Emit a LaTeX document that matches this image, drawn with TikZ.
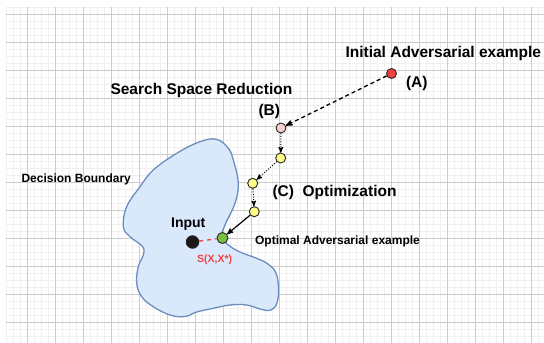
\documentclass[tikz,border=0pt]{standalone}
\usepackage{fontspec}
\setmainfont{Liberation Sans}
\usetikzlibrary{arrows}

\definecolor{blobfill}{HTML}{DAE8FC}
\definecolor{blobline}{HTML}{6C8EBF}
\definecolor{redpt}{HTML}{F04040}
\definecolor{pinkpt}{HTML}{F8CECC}
\definecolor{yellowpt}{HTML}{FFFF88}
\definecolor{greenpt}{HTML}{77C043}
\definecolor{distred}{HTML}{F04040}

\begin{document}
\begin{tikzpicture}[>=stealth',x=1pt,y=-1pt,background/.style={fill=white}]
\tikzset{dot/.style={circle,draw=black!85,line width=0.9pt,fill=#1,inner sep=0,minimum size=10pt}}
\tikzset{biglabel/.style={font=\bfseries\fontsize{15.5}{18}\selectfont,anchor=base west}}
\tikzset{midlabel/.style={font=\bfseries\fontsize{12}{14}\selectfont,anchor=base west}}
\tikzset{minorline/.style={draw=black!6,line width=0.5pt}}
\tikzset{majorline/.style={draw=black!20,line width=0.6pt}}

\useasboundingbox[background] (0,0) rectangle (544,343);

% grid paper
\foreach \x in {6.3,13.3,...,544} \draw[minorline] (\x,7.3) -- (\x,343);
\foreach \y in {7.3,14.3,...,343} \draw[minorline] (6.3,\y) -- (544,\y);
\foreach \x in {27.3,55.3,...,544} \draw[majorline] (\x,7.3) -- (\x,343);
\foreach \y in {14.3,42.3,...,343} \draw[majorline] (6.3,\y) -- (544,\y);

% decision region
\draw[draw=blobline,fill=blobfill,line width=1.3pt] plot[smooth cycle,tension=0.65] coordinates {
  (200,141.7) (216.7,139.3) (228.3,148.3) (233.3,160) (238.3,183.3) (235,203.3)
  (225,225) (221.7,237) (228.3,245) (240,252) (256.7,258.3) (268,264)
  (276,273) (278.5,288) (277,303) (271,310) (262,309.5) (246.7,305)
  (230,305) (213.3,308.3) (196.7,312) (185,316.5) (170,315) (153.3,306.7)
  (141.7,296.7) (136.7,283.3) (138.3,266.7) (143.3,255) (142.5,246.5)
  (130,236.7) (123.3,226.7) (126.7,206.7) (140,186.7) (153.3,170) (176.7,153.3)};

% points
\node[dot=redpt] (a) at (391.5,73.5) {};
\node[dot=pinkpt] (b) at (281,128) {};
\node[dot=yellowpt] (y1) at (280.7,158) {};
\node[dot=yellowpt] (y2) at (252.7,183.3) {};
\node[dot=yellowpt] (y3) at (254.3,211.7) {};
\node[dot=greenpt,minimum size=11pt] (opt) at (222.5,238) {};
\node[dot=black!90,minimum size=12.5pt] (input) at (192.5,242) {};

% search path
\draw[->,line width=1.3pt,dash pattern=on 4pt off 3pt] (a) -- (b);
\draw[->,line width=1pt,dash pattern=on 1pt off 1.6pt] (b) -- (y1);
\draw[->,line width=1pt,dash pattern=on 1pt off 1.6pt] (y1) -- (y2);
\draw[->,line width=1pt,dash pattern=on 1pt off 1.6pt] (y2) -- (y3);
\draw[->,line width=1.2pt] (y3) -- (opt);
\draw[distred,line width=1.3pt,dash pattern=on 4pt off 4pt] (input) -- (opt);

% labels
\node[biglabel] (ltitle) at (342,57.5) {Initial Adversarial example};
\node[biglabel] (la) at (402.5,87.5) {(A)};
\node[biglabel] (lssr) at (107,94.5) {Search Space Reduction};
\node[biglabel] (lb) at (255,115.5) {(B)};
\node[midlabel] (lbound) at (18,182.5) {Decision Boundary};
\node[biglabel] (lopt) at (269,196.5) {(C)\ \ Optimization};
\node[biglabel,font=\bfseries\fontsize{14}{16}\selectfont] (linput) at (167.6,227) {Input};
\node[midlabel] (loptadv) at (251.6,244.5) {Optimal Adversarial example};
\node[anchor=base west,text=distred,font=\bfseries\fontsize{10.5}{12}\selectfont] (ldist) at (193.6,262) {S(X,X*)};

\end{tikzpicture}
\end{document}
